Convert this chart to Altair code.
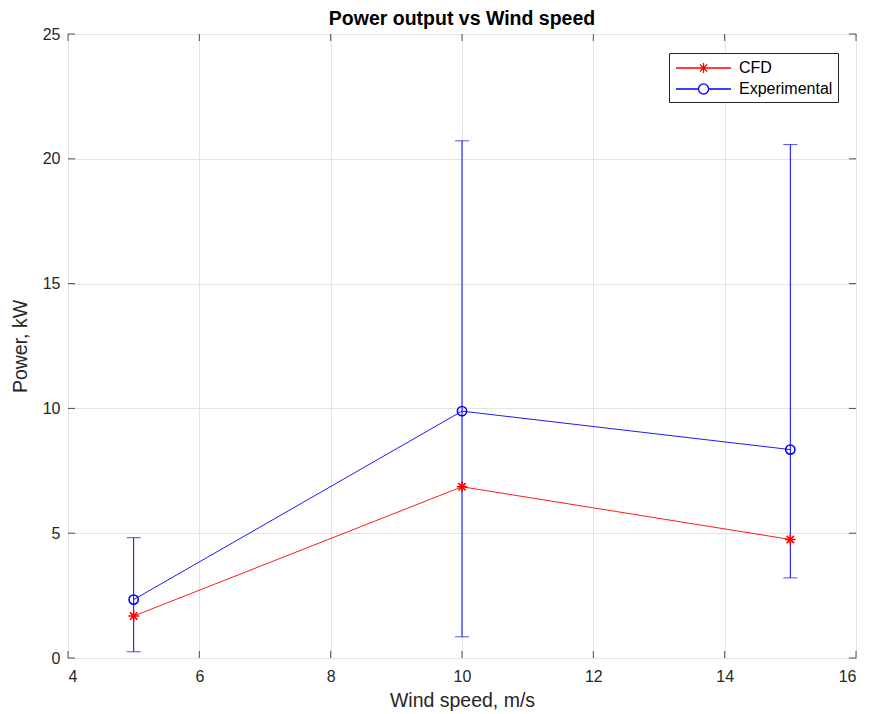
import altair as alt
import pandas as pd

# Measured power output against wind speed
wind_speed = [5, 10, 15]
cfd_power = [1.68, 6.86, 4.75]
exp_power = [2.34, 9.89, 8.35]
exp_low = [0.25, 0.85, 3.21]
exp_high = [4.82, 20.72, 20.57]

x_ticks = [4, 6, 8, 10, 12, 14, 16]
y_ticks = [0, 5, 10, 15, 20, 25]
series_names = ["CFD", "Experimental"]
series_colors = ["#ff0000", "#0000ff"]

W, H = 788, 624
FONT = "Liberation Sans"
INK = "#262626"

df = pd.DataFrame({
    "speed": wind_speed,
    "cfd": cfd_power,
    "exp": exp_power,
    "low": exp_low,
    "high": exp_high,
})

x_scale = alt.Scale(domain=[4, 16], nice=False, zero=False)
y_scale = alt.Scale(domain=[0, 25], nice=False)

x_axis = alt.Axis(values=x_ticks, title="Wind speed, m/s", grid=True, tickSize=0,
                  labelPadding=10, titlePadding=7, format="d")
y_axis = alt.Axis(values=y_ticks, title="Power, kW", grid=True, tickSize=0,
                  labelPadding=8, titlePadding=12, format="d")

X = alt.X("speed:Q", scale=x_scale, axis=x_axis)

# asterisk marker for the CFD points
star = "M-1,0L1,0M0,-1L0,1M-0.7,-0.7L0.7,0.7M-0.7,0.7L0.7,-0.7"

# legend glyphs: symbol unit is 9 px; line runs 55 px with the marker at its middle
LA, LB, LM, LR = -0.889, 5.22, 2.17, 0.56
LD = LR * 0.72
leg_star = (f"M{LA},0H{LB}M{LM},{-LR}V{LR}"
            f"M{LM - LD},{-LD}L{LM + LD},{LD}M{LM - LD},{LD}L{LM + LD},{-LD}")
leg_circle = (f"M{LA},0H{LM - LR}A{LR},{LR} 0 1,1 {LM + LR},0"
              f"A{LR},{LR} 0 1,1 {LM - LR},0M{LM + LR},0H{LB}")

base = alt.Chart(df)

def yenc(field):
    return alt.Y(field, scale=y_scale, axis=y_axis)

cfd_line = base.mark_line(color=series_colors[0], strokeWidth=0.9).encode(x=X, y=yenc("cfd:Q"))
exp_line = base.mark_line(color=series_colors[1], strokeWidth=0.9).encode(x=X, y=yenc("exp:Q"))

err_rule = base.mark_rule(color=series_colors[1], strokeWidth=1).encode(
    x=X, y=yenc("low:Q"), y2="high:Q")
cap_low = base.mark_tick(orient="horizontal", color=series_colors[1], size=14,
                         thickness=1).encode(x=X, y=yenc("low:Q"))
cap_high = base.mark_tick(orient="horizontal", color=series_colors[1], size=14,
                          thickness=1).encode(x=X, y=yenc("high:Q"))

cfd_pts = base.mark_point(shape=star, size=110, filled=False, color=series_colors[0],
                          strokeWidth=1.6, opacity=1).encode(x=X, y=yenc("cfd:Q"))
exp_pts = base.mark_point(shape="circle", size=85, filled=False, color=series_colors[1],
                          strokeWidth=1.6, opacity=1).encode(x=X, y=yenc("exp:Q"))

# inward tick marks on all four sides
xt = pd.DataFrame({"speed": x_ticks})
yt = pd.DataFrame({"v": y_ticks})
tick_bottom = alt.Chart(xt).mark_rule(color=INK, strokeWidth=0.8).encode(
    x=X, y=alt.value(H), y2=alt.value(H - 7))
tick_top = alt.Chart(xt).mark_rule(color=INK, strokeWidth=0.8).encode(
    x=X, y=alt.value(0), y2=alt.value(7))
tick_left = alt.Chart(yt).mark_rule(color=INK, strokeWidth=0.8).encode(
    y=yenc("v:Q"), x=alt.value(0), x2=alt.value(7))
tick_right = alt.Chart(yt).mark_rule(color=INK, strokeWidth=0.8).encode(
    y=yenc("v:Q"), x=alt.value(W), x2=alt.value(W - 7))

# legend source: keyed by series, draws no marks of its own
leg_df = pd.DataFrame({"series": series_names, "speed": [0, 0]})
legend_layer = alt.Chart(leg_df).transform_filter(alt.datum.speed > 100).mark_point(
    filled=False, strokeWidth=1.3, opacity=1).encode(
    x=X,
    y=yenc("speed:Q"),
    color=alt.Color("series:N",
                    scale=alt.Scale(domain=series_names, range=series_colors),
                    legend=alt.Legend(title=None, orient="none", legendX=601, legendY=19,
                                      symbolSize=324, symbolStrokeWidth=1.3,
                                      labelFontSize=16, labelFont=FONT, labelColor="#000000",
                                      labelOffset=45, rowPadding=3, padding=5,
                                      strokeColor=INK, fillColor="white",
                                      symbolFillColor="transparent",
                                      labelLimit=300)),
    shape=alt.Shape("series:N",
                    scale=alt.Scale(domain=series_names, range=[leg_star, leg_circle]),
                    legend=None),
)

chart = alt.layer(
    tick_bottom, tick_top, tick_left, tick_right,
    cfd_line, exp_line, err_rule, cap_low, cap_high, cfd_pts, exp_pts, legend_layer,
).properties(
    width=W, height=H,
    background="white",
    title=alt.Title("Power output vs Wind speed", fontSize=19.5, font=FONT,
                    fontWeight="bold", color="#000000", offset=4, dy=7),
    autosize=alt.AutoSizeParams(type="none"),
    padding={"left": 68, "top": 34, "right": 14, "bottom": 56},
).configure_view(
    stroke=INK, strokeWidth=1,
).configure_axis(
    gridColor="#e3e3e3", gridWidth=1, domain=False,
    labelFont=FONT, titleFont=FONT, labelFontSize=16, titleFontSize=19.5,
    labelColor=INK, titleColor=INK, titleFontWeight="normal",
)

chart.save("out.html", embed_options={"renderer": "svg", "actions": False})
